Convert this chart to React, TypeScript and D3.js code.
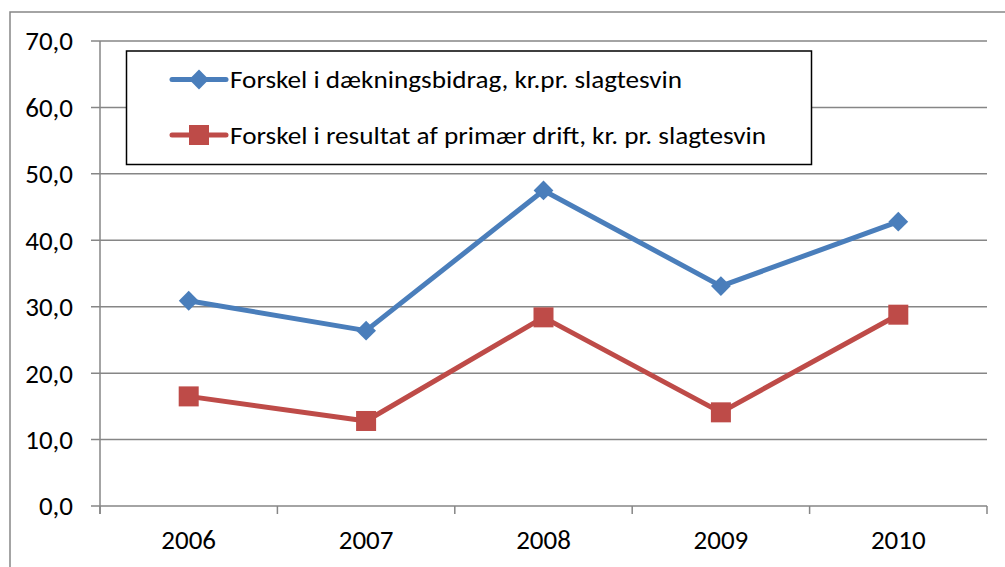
import React from 'react'
import * as d3 from 'd3'

const years = ['2006', '2007', '2008', '2009', '2010']
const daekningsbidrag = [30.9, 26.4, 47.5, 33.1, 42.8]
const resultat = [16.5, 12.8, 28.4, 14.1, 28.8]
const yTicks = [0, 10, 20, 30, 40, 50, 60, 70]

const seriesNames = [
  'Forskel i dækningsbidrag, kr.pr. slagtesvin',
  'Forskel i resultat af primær drift, kr. pr. slagtesvin',
]

const W = 1005
const H = 567
const margin = { top: 41, right: 18, bottom: 61, left: 100 }
const font = 'Carlito, Calibri, Lato, "Open Sans", sans-serif'
const gray = '#868686'
const blue = '#4a7ebb'
const red = '#be4b48'

const App: React.FC = () => {
  const x = d3.scaleBand<string>()
    .domain(years)
    .range([margin.left, W - margin.right])

  const y = d3.scaleLinear()
    .domain([0, 70])
    .range([H - margin.bottom, margin.top])

  const cx = (d: string) => (x(d) as number) + x.bandwidth() / 2

  const line = d3.line<number>()
    .x((_, i) => cx(years[i]))
    .y(d => y(d))

  const diamond = d3.symbol().type(d3.symbolDiamond2).size(250)()

  const series = [
    { name: seriesNames[0], values: daekningsbidrag, color: blue, shape: 'diamond' },
    { name: seriesNames[1], values: resultat, color: red, shape: 'square' },
  ]

  const x0 = margin.left
  const x1 = W - margin.right
  const yBase = y(0)
  const tickEdges = [...years.map(d => x(d) as number), x1]

  return (
    <svg width={W} height={H} style={{ position: 'absolute', left: 0, top: 0, background: '#fff' }}
      fontFamily={font}>
      {/* outer chart border */}
      <rect x={10} y={12} width={W + 20} height={H + 20} fill="#fff" stroke={gray} strokeWidth={1.5} />

      {/* gridlines + y labels */}
      {yTicks.map(t => (
        <g key={t}>
          <line x1={x0 - 9} x2={x1} y1={y(t)} y2={y(t)} stroke={gray} strokeWidth={1.5} />
          <text x={73} y={y(t)} dy="0.35em" textAnchor="end" fontSize={27} fill="#000">
            {d3.format('.1f')(t).replace('.', ',')}
          </text>
        </g>
      ))}

      {/* axes */}
      <line x1={x0} x2={x0} y1={margin.top} y2={yBase + 8} stroke={gray} strokeWidth={1.5} />
      {tickEdges.map((e, i) => (
        <line key={i} x1={e} x2={e} y1={yBase} y2={yBase + 8} stroke={gray} strokeWidth={1.5} />
      ))}
      {years.map(d => (
        <text key={d} x={cx(d)} y={540} dy="0.35em" textAnchor="middle" fontSize={27} fill="#000">{d}</text>
      ))}

      {/* series */}
      {series.map(s => (
        <g key={s.name}>
          <path d={line(s.values) || ''} fill="none" stroke={s.color} strokeWidth={5} strokeLinejoin="round" />
          {s.values.map((v, i) => s.shape === 'diamond'
            ? <path key={i} d={diamond || ''} transform={`translate(${cx(years[i])},${y(v)})`} fill={s.color} />
            : <rect key={i} x={cx(years[i]) - 10} y={y(v) - 10} width={20} height={20} fill={s.color} />
          )}
        </g>
      ))}

      {/* legend */}
      <rect x={126.5} y={51} width={685} height={113.5} fill="#fff" stroke="#000" strokeWidth={1.5} />
      {series.map((s, i) => {
        const ly = i === 0 ? 79.5 : 135
        return (
          <g key={s.name}>
            <line x1={172} x2={226} y1={ly} y2={ly} stroke={s.color} strokeWidth={5} strokeLinecap="round" />
            {s.shape === 'diamond'
              ? <path d={diamond || ''} transform={`translate(199,${ly})`} fill={s.color} />
              : <rect x={189} y={ly - 10} width={20} height={20} fill={s.color} />}
            <text x={230} y={ly} dy="0.35em" fontSize={25} fill="#000"
              textLength={i === 0 ? 452 : 536} lengthAdjust="spacingAndGlyphs">{s.name}</text>
          </g>
        )
      })}
    </svg>
  )
}

export default App
